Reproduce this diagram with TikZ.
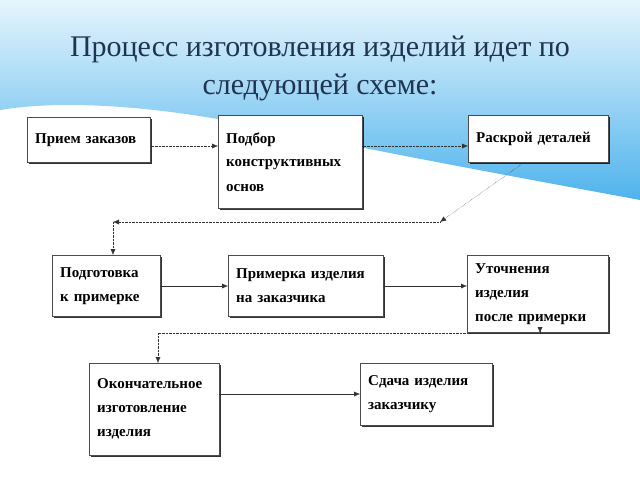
\documentclass[tikz,border=0pt]{standalone}
\usepackage{fontspec}
\setmainfont{Liberation Serif}
\usetikzlibrary{arrows.meta,shadows}
\definecolor{titleblue}{HTML}{1F3450}
\definecolor{waveblue}{HTML}{4FB3EC}
\definecolor{wavelight}{HTML}{E6F5FD}
\tikzset{
  stage/.style={draw=black!70, fill=white, anchor=north west, align=left,
    inner xsep=8pt, inner ysep=8pt, font=\bfseries\fontsize{15}{24}\selectfont,
    drop shadow={shadow xshift=1.5pt, shadow yshift=-1.5pt, fill=black, opacity=0.8}},
  solidarr/.style={-{Latex[length=6pt,width=5pt]}, black!80},
  dotarr/.style={densely dotted, -{Latex[length=6pt,width=5pt]}, black!80}
}
\begin{document}
\begin{tikzpicture}[x=1pt,y=-1pt]
\useasboundingbox (0,0) rectangle (640,480);
\fill[white] (0,0) rectangle (640,480);
\shade[top color=wavelight, bottom color=waveblue]
  (0,0) -- (640,0) -- (640,200) .. controls (560,185) and (420,160) .. (250,125)
  .. controls (150,105) and (60,100) .. (0,110) -- cycle;
% title
\node[font=\fontsize{30}{38}\selectfont, text=titleblue, align=center] (title) at (320,68)
  {Процесс изготовления изделий идет по\\следующей схеме:};
% boxes
\node[stage, minimum width=123, minimum height=45, text width=107] (zakaz) at (27,117) {Прием заказов};
\node[stage, minimum width=144, minimum height=93, text width=128] (podbor) at (218,115) {Подбор\\конструктивных\\основ};
\node[stage, minimum width=140, minimum height=47, text width=124] (raskroj) at (468,115) {Раскрой деталей};
\node[stage, minimum width=108, minimum height=61, text width=92] (podgot) at (52,255) {Подготовка\\к примерке};
\node[stage, minimum width=155, minimum height=61, text width=139] (primerka) at (228,255) {Примерка изделия\\на заказчика};
\node[stage, minimum width=141, minimum height=61, text width=125] (utochn) at (467,255) {Уточнения изделия\\после примерки};
\node[stage, minimum width=130, minimum height=92, text width=114] (okonch) at (89,363) {Окончательное\\изготовление\\изделия};
\node[stage, minimum width=132, minimum height=62, text width=116] (sdacha) at (360,363) {Сдача изделия\\заказчику};
% connectors
\coordinate (k1) at (440,222);
\coordinate (k2) at (113,222);
\coordinate (k3) at (540,333);
\coordinate (k4) at (158,333);
\draw[dotarr] (zakaz.east |- 0,146) -- (podbor.west |- 0,146);
\draw[dotarr] (podbor.east |- 0,146) -- (raskroj.west |- 0,146);
\draw[dotarr] ([xshift=-14pt]raskroj.south) -- (k1);
\draw[dotarr] (k1) -- (k2);
\draw[dotarr] (k2) -- (k2 |- podgot.north);
\draw[solidarr] (podgot.east |- 0,286) -- (primerka.west |- 0,286);
\draw[solidarr] (primerka.east |- 0,286) -- (utochn.west |- 0,286);
\draw[dotarr] (utochn.south -| k3) -- (k3);
\draw[densely dotted, black!80] (k3) -- (k4);
\draw[dotarr] (k4) -- (k4 |- okonch.north);
\draw[solidarr] (okonch.east |- 0,394) -- (sdacha.west |- 0,394);
\end{tikzpicture}
\end{document}
